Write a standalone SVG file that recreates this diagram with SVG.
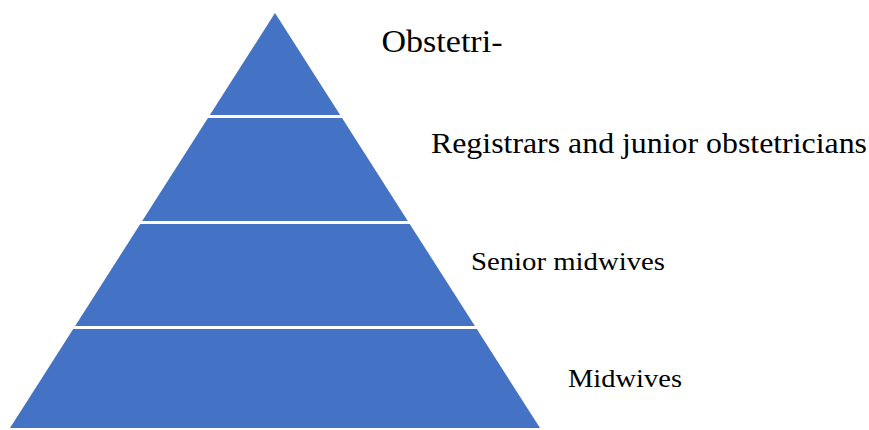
<svg xmlns="http://www.w3.org/2000/svg" width="869" height="430" viewBox="0 0 869 430">
<style>
.tier{fill:#4472C4}
.sep{stroke:#ffffff;stroke-width:3}
.lbl{fill:#000000;font-family:"Liberation Serif","Times New Roman",serif}
</style>
<rect width="869" height="430" fill="#ffffff"/>
<g id="pyramid">
<polygon class="tier" points="275,13 540,428 10,428"/>
</g>
<g id="separators">
<line class="sep" x1="150" y1="116.5" x2="400" y2="116.5"/>
<line class="sep" x1="100" y1="222.5" x2="450" y2="222.5"/>
<line class="sep" x1="50" y1="327.5" x2="500" y2="327.5"/>
</g>
<g id="labels">
<g id="tier1"><text class="lbl" x="381.5" y="51.7" font-size="31" textLength="121" lengthAdjust="spacingAndGlyphs">Obstetri-</text></g>
<g id="tier2"><text class="lbl" x="431" y="152.7" font-size="30" textLength="436" lengthAdjust="spacingAndGlyphs">Registrars and junior obstetricians</text></g>
<g id="tier3"><text class="lbl" x="471" y="270" font-size="26" textLength="194" lengthAdjust="spacingAndGlyphs">Senior midwives</text></g>
<g id="tier4"><text class="lbl" x="568" y="387.3" font-size="26" textLength="114" lengthAdjust="spacingAndGlyphs">Midwives</text></g>
</g>
</svg>
